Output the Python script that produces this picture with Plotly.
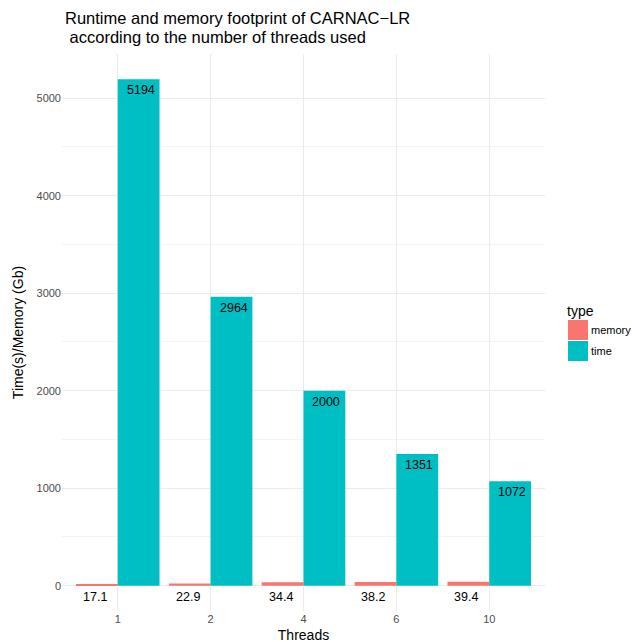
import plotly.graph_objects as go

threads = ["1", "2", "4", "6", "10"]
memory = [17.1, 22.9, 34.4, 38.2, 39.4]
time_s = [5194, 2964, 2000, 1351, 1072]
memory_labels = ["17.1", "22.9", "34.4", "38.2", "39.4"]
time_labels = ["5194", "2964", "2000", "1351", "1072"]
y_ticks = [0, 1000, 2000, 3000, 4000, 5000]

C_MEM = "#F8766D"
C_TIME = "#00BFC4"
FONT = "Liberation Sans, Arial, sans-serif"

idx = list(range(len(threads)))
fig = go.Figure()
fig.add_trace(go.Bar(x=idx, y=memory, name="memory", marker_color=C_MEM,
                     marker_line_width=0, offsetgroup="m"))
fig.add_trace(go.Bar(x=idx, y=time_s, name="time", marker_color=C_TIME,
                     marker_line_width=0, offsetgroup="t"))

for i, lab in zip(idx, memory_labels):
    fig.add_annotation(x=i - 0.225, y=0, text=lab, showarrow=False, yanchor="middle",
                       xanchor="center", yshift=-11, xshift=-2,
                       font=dict(size=12.5, color="black", family=FONT))
for i, v, lab in zip(idx, time_s, time_labels):
    fig.add_annotation(x=i + 0.225, y=v, text=lab, showarrow=False, yanchor="middle",
                       xanchor="center", yshift=-11, xshift=2,
                       font=dict(size=12.5, color="black", family=FONT))

ymax = max(time_s) * 1.05
ymin = -max(time_s) * 0.05

L, R, T, B = 62, 87, 54, 33
fig.update_layout(
    width=632, height=644,
    margin=dict(l=L, r=R, t=T, b=B, autoexpand=False),
    paper_bgcolor="white", plot_bgcolor="white",
    barmode="group", bargap=0.1, bargroupgap=0,
    showlegend=False,
    font=dict(family=FONT, color="black"),
    xaxis=dict(range=[-0.6, len(threads) - 0.4], tickvals=idx, ticktext=threads,
               showgrid=True, gridcolor="#ebebeb", gridwidth=1, zeroline=False, automargin=False,
               ticks="", tickfont=dict(size=11, color="#4d4d4d"),
               title=dict(text="Threads", font=dict(size=14, color="black"), standoff=6)),
    yaxis=dict(range=[ymin, ymax], tickvals=y_ticks,
               showgrid=True, gridcolor="#ebebeb", gridwidth=1, zeroline=False, automargin=False,
               minor=dict(dtick=500, tick0=0, showgrid=True, gridcolor="#f3f3f3", gridwidth=0.6),
               ticks="", tickfont=dict(size=11, color="#4d4d4d"),
               title=dict(text="Time(s)/Memory (Gb)", font=dict(size=14, color="black"), standoff=9)),
)

W, H = 632 - L - R, 644 - T - B
def px(xp): return (xp - L) / W
def py(yp): return (644 - B - yp) / H

# title (two lines)
fig.add_annotation(xref="paper", yref="paper", x=px(63), y=py(18),
                   text="Runtime and memory footprint of CARNAC\u2212LR",
                   showarrow=False, xanchor="left", yanchor="middle",
                   font=dict(size=16.5, color="black", family=FONT))
fig.add_annotation(xref="paper", yref="paper", x=px(63), y=py(37),
                   text="&nbsp;according to the number of threads used",
                   showarrow=False, xanchor="left", yanchor="middle",
                   font=dict(size=16.5, color="black", family=FONT))

# manual legend (ggplot style)
fig.add_shape(type="rect", xref="paper", yref="paper", x0=px(568), x1=px(588), y0=py(340), y1=py(320),
              fillcolor=C_MEM, line_width=0)
fig.add_shape(type="rect", xref="paper", yref="paper", x0=px(568), x1=px(588), y0=py(361), y1=py(341),
              fillcolor=C_TIME, line_width=0)
fig.add_annotation(xref="paper", yref="paper", x=px(565), y=py(311), text="type", showarrow=False,
                   xanchor="left", yanchor="middle", font=dict(size=14, color="black"))
fig.add_annotation(xref="paper", yref="paper", x=px(589), y=py(330), text="memory", showarrow=False,
                   xanchor="left", yanchor="middle", font=dict(size=11, color="black"))
fig.add_annotation(xref="paper", yref="paper", x=px(589), y=py(351), text="time", showarrow=False,
                   xanchor="left", yanchor="middle", font=dict(size=11, color="black"))

fig.write_html("out.html", config={"displayModeBar": False},
               post_script="document.body.style.margin='0';document.body.style.overflow='hidden';")
